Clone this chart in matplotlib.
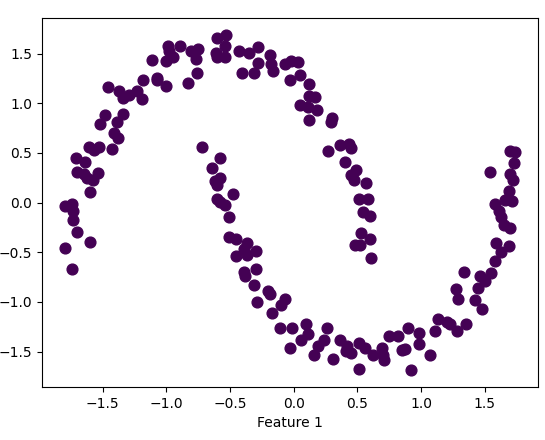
import matplotlib
matplotlib.use("Agg")
import matplotlib.pyplot as plt

# points (feature 0, feature 1)
x_upper = [-0.99, -1.00, -1.11, -1.07, -1.07, -1.00, -1.18, -1.46, -1.37, -1.34,
           -1.29, -1.23, -1.19, -1.48, -1.52, -1.34, -1.39, -1.41, -1.38,
           -1.61, -1.57, -1.53, -1.43, -1.71, -1.64, -1.70, -1.65, -1.62, -1.58,
           -1.54, -1.60, -1.80, -1.74, -1.73, -1.73, -1.70, -1.60, -1.80, -1.74,
           -0.98, -0.95, -0.89, -0.81, -0.75, -0.77, -0.60, -0.53, -0.54, -0.61,
           -0.60, -0.54, -0.43, -0.35, -0.28, -0.41, -0.31, -0.28, -0.19, -0.18,
           -0.16, -0.07, -0.02, -0.03, -0.76, -0.83,
           0.03, 0.05, 0.12, 0.12, 0.17, 0.05, 0.11, 0.18, 0.12, 0.30, 0.29,
           0.27, 0.36, 0.43, 0.45, 0.40, 0.49, 0.45, 0.47, 0.57, 0.51, 0.58,
           0.54, 0.60, 0.53, 0.60, 0.48, 0.52, 0.61]
y_upper = [1.58, 1.43, 1.44, 1.26, 1.23, 1.17, 1.24, 1.16, 1.12, 1.05,
           1.08, 1.12, 1.04, 0.88, 0.79, 0.89, 0.81, 0.70, 0.65,
           0.56, 0.53, 0.56, 0.54, 0.45, 0.41, 0.31, 0.29, 0.25, 0.23,
           0.30, 0.11, -0.03, -0.01, -0.08, -0.18, -0.30, -0.40, -0.46, -0.67,
           1.53, 1.47, 1.58, 1.53, 1.55, 1.45, 1.66, 1.69, 1.58, 1.51,
           1.47, 1.47, 1.53, 1.51, 1.57, 1.31, 1.31, 1.41, 1.49, 1.40,
           1.33, 1.40, 1.43, 1.23, 1.31, 1.20,
           1.42, 1.29, 1.19, 1.07, 1.06, 0.98, 0.96, 0.93, 0.83, 0.85, 0.81,
           0.52, 0.58, 0.59, 0.55, 0.41, 0.33, 0.28, 0.23, 0.20, 0.04, 0.04,
           -0.09, -0.13, -0.31, -0.37, -0.43, -0.43, -0.56]

x_lower = [1.70, 1.74, 1.73, 1.54, 1.70, 1.72, 1.69, 1.71, 1.66, 1.58,
           1.61, 1.63, 1.65, 1.70, 1.59, 1.69, 1.63, 1.58,
           1.34, 1.46, 1.55, 1.50, 1.45, 1.27, 1.29, 1.42, 1.48, 1.13,
           1.20, 1.23, 1.35, 1.28, 1.11, 0.98, 0.98, 1.07,
           -0.01, -0.03, 0.10, 0.11, 0.06, 0.19, 0.16, 0.26, 0.24, 0.31,
           0.36, 0.42, 0.41, 0.45, 0.51, 0.56, 0.62, 0.69, 0.70, 0.71,
           0.51, 0.75, 0.82, 0.90, 0.85, 0.87, 0.92,
           -0.39, -0.38, -0.30, -0.31, -0.20, -0.19, -0.29, -0.07, -0.10,
           -0.17, -0.11,
           -0.72, -0.58, -0.64, -0.58, -0.62, -0.60, -0.48, -0.60, -0.54,
           -0.58, -0.51, -0.51, -0.45, -0.37, -0.39, -0.30, -0.45, -0.37]
y_lower = [0.52, 0.51, 0.40, 0.31, 0.29, 0.23, 0.12, 0.02, 0.03, -0.01,
           -0.08, -0.14, -0.23, -0.26, -0.41, -0.44, -0.50, -0.59,
           -0.70, -0.74, -0.71, -0.79, -0.86, -0.87, -0.97, -0.98, -1.07, -1.17,
           -1.20, -1.22, -1.22, -1.29, -1.29, -1.31, -1.42, -1.53,
           -1.26, -1.46, -1.22, -1.32, -1.38, -1.44, -1.53, -1.26, -1.38, -1.57,
           -1.38, -1.44, -1.49, -1.51, -1.41, -1.46, -1.53, -1.46, -1.53, -1.59,
           -1.68, -1.34, -1.34, -1.26, -1.48, -1.47, -1.69,
           -0.70, -0.74, -0.67, -0.83, -0.89, -0.92, -1.00, -0.97, -1.03,
           -1.11, -1.26,
           0.56, 0.45, 0.35, 0.25, 0.22, 0.18, 0.09, 0.04, -0.02,
           0.01, -0.14, -0.35, -0.37, -0.41, -0.47, -0.49, -0.54, -0.53]

xs = x_upper + x_lower
ys = y_upper + y_lower

fig = plt.figure(figsize=(5.45, 4.4), dpi=100)
ax = fig.add_axes([0.077, 0.12, 0.91, 0.839])
ax.scatter(xs, ys, s=60, c='#440154')
ax.set_xlabel('Feature 1')

fig.savefig('out.png', dpi=100)
